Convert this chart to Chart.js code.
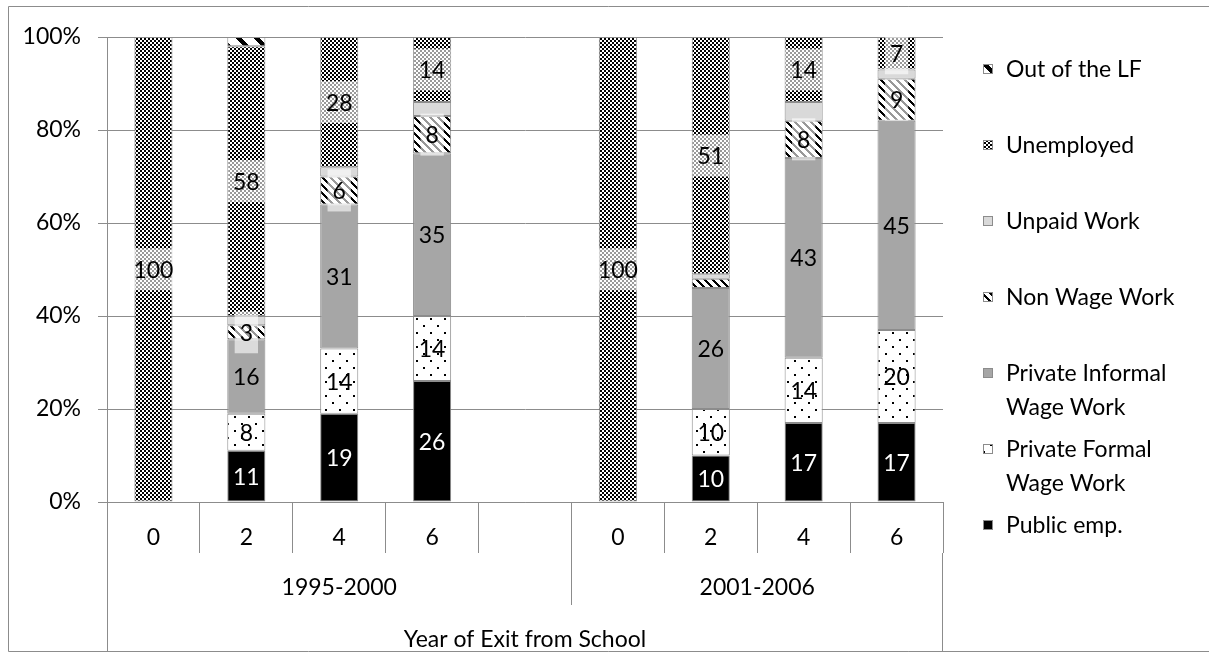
<!DOCTYPE html>
<html>
<head>
<meta charset="utf-8">
<script src="https://cdn.jsdelivr.net/npm/chart.js@4.4.1/dist/chart.umd.min.js"></script>
<style>
  html, body { margin: 0; padding: 0; background: #fff; overflow: hidden; }
  canvas { display: block; }
</style>
</head>
<body>
<canvas id="c" width="1209" height="653"></canvas>
<script>
// Years since leaving school, grouped by cohort of exit (blank slot separates the cohorts)
const categories = ['0', '2', '4', '6', '', '0', '2', '4', '6'];
const groups = ['1995-2000', '2001-2006'];
const groupSpans = [5, 4];
const axisTitle = 'Year of Exit from School';
const yTicks = [0, 20, 40, 60, 80, 100];

// Labour-market status shares (%), bottom of the stack first
const publicEmp    = [0, 11, 19, 26, null, 0, 10, 17, 17];
const privFormal   = [0,  8, 14, 14, null, 0, 10, 14, 20];
const privInformal = [0, 16, 31, 35, null, 0, 26, 43, 45];
const nonWage      = [0,  3,  6,  8, null, 0,  2,  8,  9];
const unpaid       = [0,  2,  2,  3, null, 0,  1,  4,  2];
const unemployed   = [100, 58, 28, 14, null, 100, 51, 14, 7];
const outOfLF      = [0,  2,  0,  0, null, 0,  0,  0,  0];

const FONT = 'Lato';
const FS = 23;
const LINE = '#8c8c8c';

// ---- fill patterns -------------------------------------------------------
function tile(n, paint) {
  const cv = document.createElement('canvas');
  cv.width = n; cv.height = n;
  const g = cv.getContext('2d');
  g.fillStyle = '#fff'; g.fillRect(0, 0, n, n);
  g.fillStyle = '#000';
  paint(g, n);
  return cv;
}
function pattern(cv) {
  return document.getElementById('c').getContext('2d').createPattern(cv, 'repeat');
}
// fine black/white checkerboard
const checkerTile = tile(4, (g) => { g.fillRect(2, 0, 2, 2); g.fillRect(0, 2, 2, 2); });
// diagonal stripes running top-left to bottom-right
function diagTile(n, w) {
  return tile(n, (g) => {
    for (let y = 0; y < n; y++)
      for (let x = 0; x < n; x++)
        if (((x - y) % n + n) % n < w) g.fillRect(x, y, 1, 1);
  });
}
const hatchTile = diagTile(8, 3);
const wideTile = diagTile(18, 6);
// sparse staggered dots
const dotTile = tile(14, (g) => { g.fillRect(3, 3, 2, 2); g.fillRect(10, 10, 2, 2); });

const series = [
  { name: ['Public emp.'], data: publicEmp, fill: '#000000', label: true, min: 1, textColor: '#fff', box: false },
  { name: ['Private Formal', 'Wage Work'], data: privFormal, fill: pattern(dotTile), label: true, min: 1, textColor: '#000', box: false },
  { name: ['Private Informal', 'Wage Work'], data: privInformal, fill: '#a6a6a6', label: true, min: 1, textColor: '#000', box: false },
  { name: ['Non Wage Work'], data: nonWage, fill: pattern(hatchTile), label: true, min: 3, textColor: '#000', box: true },
  { name: ['Unpaid Work'], data: unpaid, fill: '#d9d9d9', label: false },
  { name: ['Unemployed'], data: unemployed, fill: pattern(checkerTile), label: true, min: 1, textColor: '#000', box: true },
  { name: ['Out of the LF'], data: outOfLF, fill: pattern(wideTile), label: false }
];

// ---- plugins ---------------------------------------------------------------
const whiteBackground = {
  id: 'whiteBackground',
  beforeDraw(chart) {
    const c = chart.ctx;
    c.save(); c.fillStyle = '#fff'; c.fillRect(0, 0, chart.width, chart.height); c.restore();
  }
};

const valueLabels = {
  id: 'valueLabels',
  afterDatasetsDraw(chart) {
    const c = chart.ctx;
    c.save();
    c.font = `${FS}px ${FONT}`;
    c.textAlign = 'center';
    c.textBaseline = 'middle';
    chart.data.datasets.forEach((ds, di) => {
      const s = series[di];
      if (!s.label) return;
      chart.getDatasetMeta(di).data.forEach((bar, i) => {
        const v = ds.data[i];
        if (v == null || v < s.min) return;
        const p = bar.getProps(['x', 'y', 'base'], true);
        const cy = (p.y + p.base) / 2;
        const txt = String(v);
        const w = c.measureText(txt).width;
        if (s.box) {
          c.fillStyle = 'rgba(255,255,255,0.6)';
          c.fillRect(p.x - w / 2 - 5, cy - 21, w + 10, 42);
        }
        c.fillStyle = s.textColor;
        c.fillText(txt, p.x, cy + 1);
      });
    });
    c.restore();
  }
};

const frameAndGroups = {
  id: 'frameAndGroups',
  afterDraw(chart) {
    const c = chart.ctx;
    const xs = chart.scales.x;
    const area = chart.chartArea;
    const slot = (xs.right - xs.left) / categories.length;
    const edge = (i) => xs.getPixelForValue(i) - slot / 2;
    const H = chart.height;
    c.save();
    c.strokeStyle = LINE;
    c.lineWidth = 1;
    const line = (x1, y1, x2, y2) => { c.beginPath(); c.moveTo(x1, y1); c.lineTo(x2, y2); c.stroke(); };
    // outer frame
    line(8.5, 6.5, chart.width, 6.5);
    line(8.5, 6.5, 8.5, H - 1.5);
    line(8.5, H - 1.5, chart.width, H - 1.5);
    // category-group dividers
    const tickBottom = area.bottom + 51;
    line(Math.round(area.left) + 0.5, area.bottom, Math.round(area.left) + 0.5, H - 1.5);
    line(Math.round(area.right) - 0.5, tickBottom, Math.round(area.right) - 0.5, H - 1.5);
    let start = 0;
    c.fillStyle = '#000';
    c.font = `${FS}px ${FONT}`;
    c.textAlign = 'center';
    c.textBaseline = 'middle';
    groups.forEach((g, gi) => {
      const a = edge(start);
      const b = edge(start + groupSpans[gi]);
      if (gi > 0) line(Math.round(a) + 0.5, tickBottom, Math.round(a) + 0.5, area.bottom + 103);
      c.fillText(g, (a + b) / 2, area.bottom + 86);
      start += groupSpans[gi];
    });
    c.fillText(axisTitle, (area.left + area.right) / 2, area.bottom + 138);
    c.restore();
  }
};

const sideLegend = {
  id: 'sideLegend',
  afterDraw(chart) {
    const c = chart.ctx;
    c.save();
    c.font = `${FS}px ${FONT}`;
    c.textAlign = 'left';
    c.textBaseline = 'middle';
    const x0 = 983, tx = 1006, top = 69, step = 76, lh = 34;
    const order = series.slice().reverse();
    order.forEach((s, k) => {
      const y = top + k * step;
      c.fillStyle = s.fill;
      c.fillRect(x0, y - 5, 10, 10);
      c.strokeStyle = LINE;
      c.lineWidth = 1;
      c.strokeRect(x0 + 0.5, y - 4.5, 9, 9);
      c.fillStyle = '#000';
      s.name.forEach((ln, j) => c.fillText(ln, tx, y + j * lh + 1));
    });
    c.restore();
  }
};

// ---- chart -----------------------------------------------------------------
function build() {
  new Chart(document.getElementById('c'), {
    type: 'bar',
    data: {
      labels: categories,
      datasets: series.map((s) => ({
        label: s.name.join(' '),
        data: s.data,
        backgroundColor: s.fill,
        borderColor: LINE,
        borderWidth: (ctx) => (ctx.raw ? 1 : 0),
        borderSkipped: false,
        categoryPercentage: 0.41,
        barPercentage: 1
      }))
    },
    options: {
      responsive: false,
      animation: false,
      devicePixelRatio: 1,
      layout: { padding: { top: 37, right: 266, left: 0, bottom: 0 } },
      plugins: { legend: { display: false }, tooltip: { enabled: false } },
      scales: {
        x: {
          stacked: true,
          grid: { display: true, drawOnChartArea: false, drawTicks: true, tickLength: 51, color: LINE, offset: true },
          border: { display: true, color: LINE },
          ticks: { font: { family: FONT, size: FS }, color: '#000', padding: -29, maxRotation: 0, autoSkip: false },
          afterFit: (s) => { s.height = 151; }
        },
        y: {
          stacked: true,
          min: 0,
          max: 100,
          afterBuildTicks: (s) => { s.ticks = yTicks.map((v) => ({ value: v })); },
          ticks: { callback: (v) => v + '%', font: { family: FONT, size: FS }, color: '#000', padding: 17 },
          grid: { color: LINE, tickLength: 9 },
          border: { color: LINE },
          afterFit: (s) => { s.width = 107; }
        }
      }
    },
    plugins: [whiteBackground, valueLabels, frameAndGroups, sideLegend]
  });
}

(document.fonts && document.fonts.load ? document.fonts.load(`${FS}px ${FONT}`) : Promise.resolve())
  .then(build, build);
</script>
</body>
</html>
